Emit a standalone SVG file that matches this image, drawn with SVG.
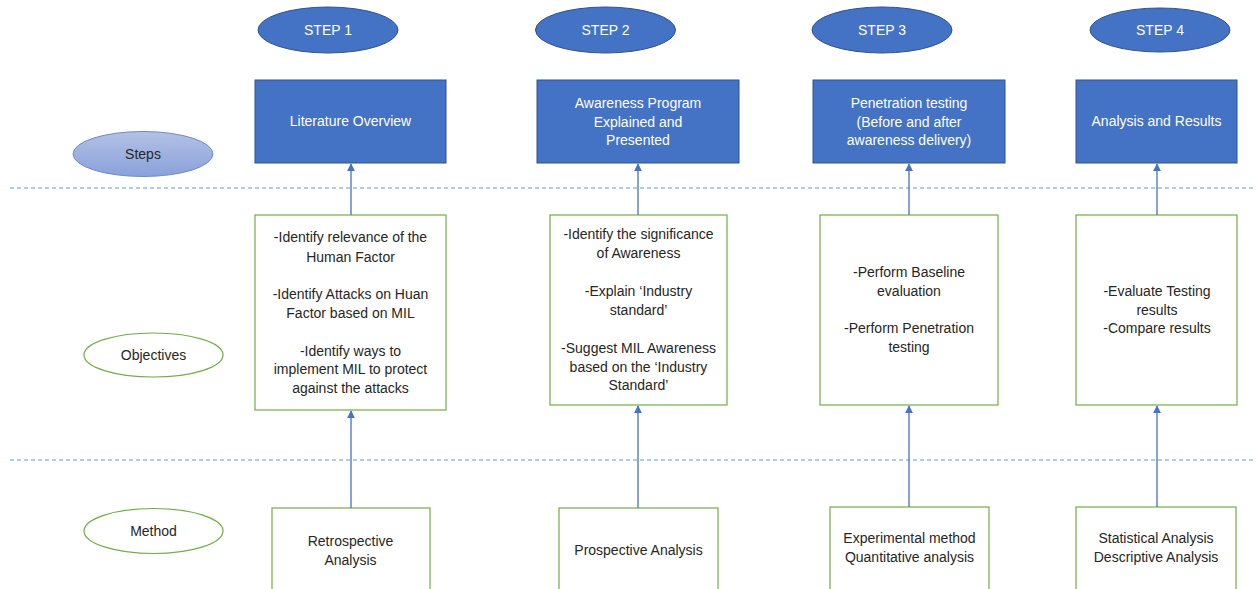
<svg xmlns="http://www.w3.org/2000/svg" width="1256" height="589" viewBox="0 0 1256 589">
<defs>
<linearGradient id="gSteps" x1="0" y1="0" x2="0" y2="1">
<stop offset="0" stop-color="#B3C1E6"/>
<stop offset="1" stop-color="#8AA1D9"/>
</linearGradient>
<marker id="arr" viewBox="0 0 10 10" refX="9" refY="5" markerWidth="8" markerHeight="8" markerUnits="userSpaceOnUse" orient="auto">
<path d="M0,0 L10,5 L0,10 z" fill="#4472C4"/>
</marker>
<style>
text{font-family:"Liberation Sans",Arial,sans-serif;font-size:14px;text-anchor:middle;fill:#262626}
.w{fill:#ffffff}
.step{fill:#4472C4;stroke:#2F528F;stroke-width:1}
.blue{fill:#4472C4;stroke:#2F528F;stroke-width:1}
.green{fill:#ffffff;stroke:#70AD47;stroke-width:1.2}
.gell{fill:#ffffff;stroke:#70AD47;stroke-width:1.2}
.dash{stroke:#5B9BD5;stroke-width:1;stroke-dasharray:4 3;fill:none}
.con{stroke:#4472C4;stroke-width:1.3;fill:none;marker-end:url(#arr)}
</style>
</defs>
<rect width="1256" height="589" fill="#ffffff"/>

<g id="guides">
<line class="dash" x1="10" y1="188" x2="1256" y2="188"/>
<line class="dash" x1="10" y1="460" x2="1256" y2="460"/>
</g>

<g id="label-steps">
<ellipse cx="143" cy="154" rx="70" ry="22.5" fill="url(#gSteps)" stroke="#6A8CC8" stroke-width="1"/>
<text x="143" y="159">Steps</text>
</g>
<g id="label-objectives">
<ellipse class="gell" cx="153.5" cy="355" rx="69.5" ry="22"/>
<text x="153.5" y="360">Objectives</text>
</g>
<g id="label-method">
<ellipse class="gell" cx="153.5" cy="531" rx="69.5" ry="22.5"/>
<text x="153.5" y="536">Method</text>
</g>

<g id="step1">
<ellipse class="step" cx="328" cy="30" rx="70" ry="23"/>
<text class="w" x="328" y="35">STEP 1</text>
</g>
<g id="step2">
<ellipse class="step" cx="605.5" cy="30" rx="70" ry="23"/>
<text class="w" x="605.5" y="35">STEP 2</text>
</g>
<g id="step3">
<ellipse class="step" cx="882" cy="30" rx="70" ry="23"/>
<text class="w" x="882" y="35">STEP 3</text>
</g>
<g id="step4">
<ellipse class="step" cx="1160" cy="30" rx="70" ry="22"/>
<text class="w" x="1160" y="35">STEP 4</text>
</g>

<g id="lit">
<rect class="blue" x="255" y="80" width="191" height="83"/>
<text class="w" x="350.5" y="126">Literature Overview</text>
</g>
<g id="awareness">
<rect class="blue" x="537" y="80" width="202" height="83"/>
<text class="w" x="638" y="108">Awareness Program</text>
<text class="w" x="638" y="127">Explained and</text>
<text class="w" x="638" y="145">Presented</text>
</g>
<g id="pentest">
<rect class="blue" x="813" y="80" width="192" height="83"/>
<text class="w" x="909" y="108">Penetration testing</text>
<text class="w" x="909" y="127">(Before and after</text>
<text class="w" x="909" y="145">awareness delivery)</text>
</g>
<g id="analysis">
<rect class="blue" x="1076" y="80" width="161" height="83"/>
<text class="w" x="1156.5" y="126">Analysis and Results</text>
</g>

<g id="obj1">
<rect class="green" x="255" y="215" width="191" height="195"/>
<text x="350.5" y="242">-Identify relevance of the</text>
<text x="350.5" y="262">Human Factor</text>
<text x="350.5" y="299">-Identify Attacks on Huan</text>
<text x="350.5" y="318">Factor based on MIL</text>
<text x="350.5" y="356">-Identify ways to</text>
<text x="350.5" y="374">implement MIL to protect</text>
<text x="350.5" y="393">against the attacks</text>
</g>
<g id="obj2">
<rect class="green" x="550" y="215" width="177" height="190"/>
<text x="638.5" y="239">-Identify the significance</text>
<text x="638.5" y="258">of Awareness</text>
<text x="638.5" y="296">-Explain ‘Industry</text>
<text x="638.5" y="315">standard’</text>
<text x="638.5" y="353">-Suggest MIL Awareness</text>
<text x="638.5" y="372">based on the ‘Industry</text>
<text x="638.5" y="390">Standard’</text>
</g>
<g id="obj3">
<rect class="green" x="820" y="215" width="178" height="190"/>
<text x="909" y="277">-Perform Baseline</text>
<text x="909" y="296">evaluation</text>
<text x="909" y="333">-Perform Penetration</text>
<text x="909" y="352">testing</text>
</g>
<g id="obj4">
<rect class="green" x="1076" y="215" width="161" height="190"/>
<text x="1157" y="296">-Evaluate Testing</text>
<text x="1157" y="315">results</text>
<text x="1157" y="333">-Compare results</text>
</g>

<g id="meth1">
<rect class="green" x="272" y="508" width="158" height="100"/>
<text x="350.5" y="546">Retrospective</text>
<text x="350.5" y="565">Analysis</text>
</g>
<g id="meth2">
<rect class="green" x="559" y="508" width="159" height="100"/>
<text x="638.5" y="555">Prospective Analysis</text>
</g>
<g id="meth3">
<rect class="green" x="830" y="507" width="159" height="100"/>
<text x="909.5" y="543">Experimental method</text>
<text x="909.5" y="562">Quantitative analysis</text>
</g>
<g id="meth4">
<rect class="green" x="1076" y="507" width="160" height="100"/>
<text x="1156" y="543">Statistical Analysis</text>
<text x="1156" y="562">Descriptive Analysis</text>
</g>

<g id="connectors">
<line class="con" x1="351" y1="508" x2="351" y2="411"/>
<line class="con" x1="351" y1="215" x2="351" y2="164"/>
<line class="con" x1="638" y1="508" x2="638" y2="406"/>
<line class="con" x1="638" y1="215" x2="638" y2="164"/>
<line class="con" x1="909" y1="507" x2="909" y2="406"/>
<line class="con" x1="909" y1="215" x2="909" y2="164"/>
<line class="con" x1="1157" y1="507" x2="1157" y2="406"/>
<line class="con" x1="1157" y1="215" x2="1157" y2="164"/>
</g>
</svg>
